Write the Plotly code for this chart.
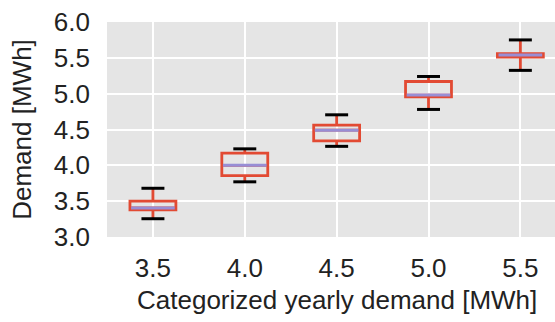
import plotly.graph_objects as go

# Box statistics per demand category (MWh)
categories = ["3.5", "4.0", "4.5", "5.0", "5.5"]
lower_whisker = [3.255, 3.77, 4.265, 4.78, 5.325]
q1 = [3.38, 3.855, 4.34, 4.955, 5.51]
median = [3.405, 4.00, 4.49, 4.98, 5.54]
q3 = [3.50, 4.17, 4.56, 5.17, 5.56]
upper_whisker = [3.68, 4.23, 4.705, 5.24, 5.75]

positions = list(range(1, len(categories) + 1))
box_half = 0.25
cap_half = 0.125

RED = "#E24A33"
MEDIAN = "#988ED5"
TEXT = "#222222"
FONT_SIZE = 26

fig = go.Figure()

fig.add_trace(go.Box(
    x=positions,
    q1=q1, median=median, q3=q3,
    lowerfence=lower_whisker, upperfence=upper_whisker,
    width=2 * box_half,
    whiskerwidth=0,
    fillcolor="rgba(0,0,0,0)",
    line=dict(color=RED, width=2.8),
    boxpoints=False,
    showlegend=False,
))

# whisker caps
cap_x, cap_y = [], []
for p, lo, hi in zip(positions, lower_whisker, upper_whisker):
    for v in (lo, hi):
        cap_x += [p - cap_half, p + cap_half, None]
        cap_y += [v, v, None]
fig.add_trace(go.Scatter(x=cap_x, y=cap_y, mode="lines",
                         line=dict(color="black", width=3),
                         showlegend=False, hoverinfo="skip"))

# median lines
med_x, med_y = [], []
for p, m in zip(positions, median):
    med_x += [p - box_half + 0.012, p + box_half - 0.012, None]
    med_y += [m, m, None]
fig.add_trace(go.Scatter(x=med_x, y=med_y, mode="lines",
                         line=dict(color=MEDIAN, width=3),
                         showlegend=False, hoverinfo="skip"))

# x-axis title, centred on the full axis span (which runs past the right edge)
fig.add_annotation(
    text="Categorized yearly demand [MWh]",
    xref="x", x=3.0, yref="paper", y=-0.295,
    xanchor="center", yanchor="middle", showarrow=False,
    font=dict(size=FONT_SIZE, color=TEXT),
)

fig.update_layout(
    width=555, height=322,
    margin=dict(l=107, r=0, t=22, b=85),
    paper_bgcolor="white",
    plot_bgcolor="#E5E5E5",
    font=dict(family="Liberation Sans, Arial, sans-serif", size=FONT_SIZE, color=TEXT),
    xaxis=dict(
        range=[0.5, 5.377],
        tickmode="array", tickvals=positions, ticktext=categories,
        showgrid=True, gridcolor="white", gridwidth=2,
        zeroline=False, showline=False,
        ticks="", ticklabelstandoff=13,
    ),
    yaxis=dict(
        range=[3.0, 6.0],
        tickmode="array", tickvals=[3.0, 3.5, 4.0, 4.5, 5.0, 5.5, 6.0],
        ticktext=["3.0", "3.5", "4.0", "4.5", "5.0", "5.5", "6.0"],
        showgrid=True, gridcolor="white", gridwidth=2,
        zeroline=False, showline=False,
        ticks="", ticklabelstandoff=16,
        title=dict(text="Demand [MWh]", standoff=14,
                   font=dict(size=FONT_SIZE, color=TEXT)),
    ),
)

fig.write_html("out.html")
